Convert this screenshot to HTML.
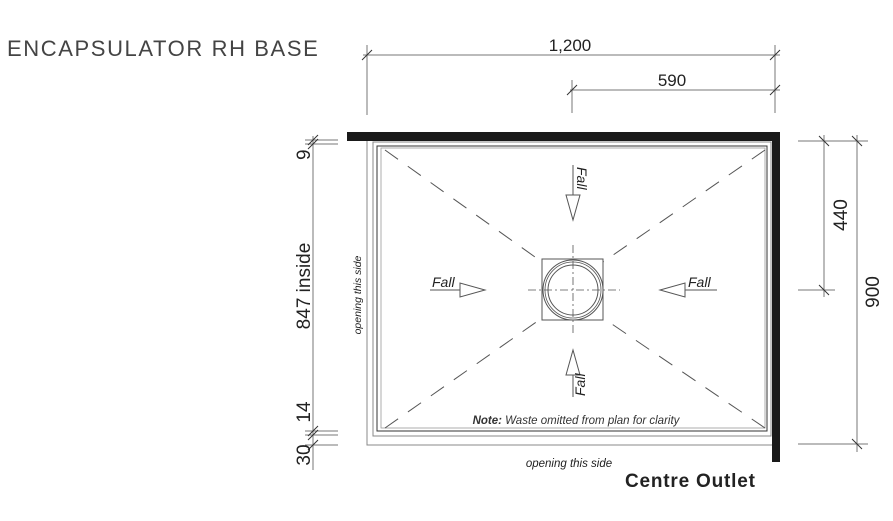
<!DOCTYPE html>
<html><head><meta charset="utf-8"><style>
html,body{margin:0;padding:0;background:#fff;width:893px;height:521px;overflow:hidden}
text{font-family:"Liberation Sans",sans-serif;fill:#222}
</style></head><body>
<svg width="893" height="521" viewBox="0 0 893 521" xmlns="http://www.w3.org/2000/svg">
<text x="7" y="56" font-size="22" letter-spacing="1.6" style="fill:#444">ENCAPSULATOR RH BASE</text>

<g stroke="#777" stroke-width="1" fill="none">
<line x1="363" y1="55" x2="780" y2="55"/>
<line x1="367" y1="45" x2="367" y2="115"/>
<line x1="775" y1="45" x2="775" y2="113"/>
<line x1="570" y1="90" x2="780" y2="90"/>
<line x1="572" y1="80" x2="572" y2="113"/>
</g>
<g stroke="#333" stroke-width="1">
<line x1="362" y1="60" x2="372" y2="50"/>
<line x1="770" y1="60" x2="780" y2="50"/>
<line x1="567" y1="95" x2="577" y2="85"/>
<line x1="770" y1="95" x2="780" y2="85"/>
</g>
<text x="570" y="51" font-size="17" text-anchor="middle">1,200</text>
<text x="672" y="86" font-size="17" text-anchor="middle">590</text>

<rect x="347" y="132" width="433" height="9" fill="#1a1a1a"/>
<rect x="772" y="132" width="8" height="330" fill="#1a1a1a"/>

<g fill="none">
<polyline points="367,141 367,445 772,445" stroke="#888" stroke-width="1"/>
<rect x="373" y="142" width="398" height="294" stroke="#888" stroke-width="1"/>
<rect x="377" y="146" width="390" height="285" stroke="#333" stroke-width="1"/>
<rect x="381" y="148" width="384" height="280" stroke="#999" stroke-width="0.8"/>
</g>

<g stroke="#555" stroke-width="1" stroke-dasharray="16,12">
<line x1="385" y1="150" x2="542" y2="262"/>
<line x1="765" y1="150" x2="603" y2="262"/>
<line x1="385" y1="428" x2="542" y2="318"/>
<line x1="765" y1="428" x2="603" y2="318"/>
</g>
<g stroke="#555" stroke-width="0.8" stroke-dasharray="8,3,2,3">
<line x1="573" y1="245" x2="573" y2="335"/>
<line x1="528" y1="290" x2="620" y2="290"/>
</g>
<g fill="none" stroke="#555">
<rect x="542" y="259" width="61" height="61" stroke-width="1"/>
<circle cx="573" cy="290" r="30" stroke-width="1"/>
<circle cx="573" cy="290" r="28" stroke-width="0.8"/>
<circle cx="573" cy="290" r="25" stroke-width="1"/>
</g>

<g fill="#fff" stroke="#555" stroke-width="1">
<line x1="573" y1="165" x2="573" y2="195"/>
<polygon points="566,195 580,195 573,220"/>
<line x1="573" y1="375" x2="573" y2="397"/>
<polygon points="566,375 580,375 573,350"/>
<line x1="430" y1="290" x2="460" y2="290"/>
<polygon points="460,283 460,297 485,290"/>
<line x1="685" y1="290" x2="717" y2="290"/>
<polygon points="685,283 685,297 660,290"/>
</g>
<g font-size="14" font-style="italic">
<text x="432" y="287">Fall</text>
<text x="688" y="287">Fall</text>
<text transform="translate(577,167) rotate(90)">Fall</text>
<text transform="translate(585,396) rotate(-90)">Fall</text>
</g>

<text x="576" y="424" font-size="11.5" font-style="italic" text-anchor="middle" style="fill:#333"><tspan font-weight="bold">Note:</tspan> Waste omitted from plan for clarity</text>
<text x="569" y="467" font-size="11.5" font-style="italic" text-anchor="middle">opening this side</text>
<text transform="translate(361,295) rotate(-90)" font-size="10.5" font-style="italic" text-anchor="middle">opening this side</text>
<text x="625" y="487" font-size="19" font-weight="bold" letter-spacing="0.8">Centre Outlet</text>

<g stroke="#777" stroke-width="1">
<line x1="313" y1="136" x2="313" y2="470"/>
<line x1="305" y1="140" x2="338" y2="140"/>
<line x1="305" y1="144" x2="338" y2="144"/>
<line x1="305" y1="431" x2="338" y2="431"/>
<line x1="305" y1="435" x2="338" y2="435"/>
<line x1="305" y1="445" x2="338" y2="445"/>
</g>
<g stroke="#333" stroke-width="1">
<line x1="308" y1="145" x2="318" y2="135"/>
<line x1="308" y1="149" x2="318" y2="139"/>
<line x1="308" y1="436" x2="318" y2="426"/>
<line x1="308" y1="440" x2="318" y2="430"/>
<line x1="308" y1="450" x2="318" y2="440"/>
</g>
<g font-size="19">
<text transform="translate(310,160) rotate(-90)">9</text>
<text transform="translate(310,286) rotate(-90)" text-anchor="middle">847 inside</text>
<text transform="translate(310,412) rotate(-90)" text-anchor="middle">14</text>
<text transform="translate(310,455) rotate(-90)" text-anchor="middle">30</text>
</g>

<g stroke="#777" stroke-width="1">
<line x1="824" y1="135" x2="824" y2="297"/>
<line x1="857" y1="135" x2="857" y2="452"/>
<line x1="798" y1="141" x2="868" y2="141"/>
<line x1="798" y1="290" x2="835" y2="290"/>
<line x1="798" y1="444" x2="868" y2="444"/>
</g>
<g stroke="#333" stroke-width="1">
<line x1="819" y1="136" x2="829" y2="146"/>
<line x1="852" y1="136" x2="862" y2="146"/>
<line x1="819" y1="285" x2="829" y2="295"/>
<line x1="852" y1="439" x2="862" y2="449"/>
</g>
<g font-size="19">
<text transform="translate(847,215) rotate(-90)" text-anchor="middle">440</text>
<text transform="translate(879,292) rotate(-90)" text-anchor="middle">900</text>
</g>
</svg>
</body></html>
